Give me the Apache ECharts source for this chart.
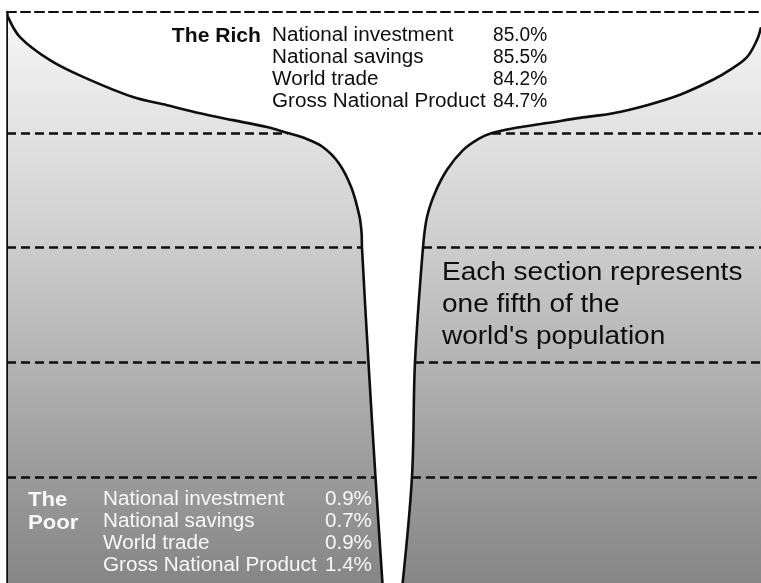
<!DOCTYPE html>
<html>
<head>
<meta charset="utf-8">
<script src="https://cdn.jsdelivr.net/npm/echarts@6/dist/echarts.min.js"></script>
<style>
  html, body { margin: 0; padding: 0; background: #ffffff; }
  #chart { width: 761px; height: 583px; }
</style>
</head>
<body>
<div id="chart"></div>
<script>
// ---- Data ----
// y: cumulative share of world population (0 = poorest, 100 = richest)
// x: position across the glass (0 = left edge, 100 = right edge)
const sectionLevels = [20, 40, 60, 80];

const leftCurve = [
  [0.13, 100.25], [1.72, 96.73], [5.70, 92.70], [10.08, 89.78], [16.71, 86.26],
  [21.22, 84.85], [25.60, 83.44], [29.97, 82.24], [34.48, 81.03], [37.27, 80],
  [39.26, 79.2], [41.84, 77.6], [44.03, 74.69], [45.68, 70.46], [46.72, 65.63],
  [47.02, 62.71], [47.08, 60], [47.94, 40], [48.87, 20], [49.87, 0]
];

const rightCurve = [
  [52.35, 0], [53.71, 20], [54.11, 40], [55.17, 60], [55.70, 65.33],
  [56.76, 69.55], [58.36, 73.58], [60.48, 77.0], [62.6, 79.0], [64.32, 80],
  [67.5, 80.9], [71.62, 81.73], [76.0, 82.64], [80.37, 83.44], [84.88, 84.85],
  [89.26, 86.67], [93.63, 89.28], [95.89, 91.0], [98.14, 93.21], [99.47, 96.23],
  [100, 98.44]
];

const indicatorNames = ['National investment', 'National savings', 'World trade', 'Gross National Product'];
const richShares = [85.0, 85.5, 84.2, 84.7];
const poorShares = [0.9, 0.7, 0.9, 1.4];
const richTitle = 'The Rich';
const poorTitle = ['The', 'Poor'];
const noteLines = ['Each section represents', 'one fifth of the', "world's population"];

// ---- Chart ----
const chart = echarts.init(document.getElementById('chart'), null, { renderer: 'canvas' });

const FONT = '"Liberation Sans", Arial, Helvetica, sans-serif';
const INK = '#0e0e0e';
const dash = [9, 5];

const fillGradient = {
  type: 'linear', global: true, x: 0, y: 12, x2: 0, y2: 583,
  colorStops: [
    { offset: 0.00, color: '#f6f6f6' },
    { offset: 0.21, color: '#e2e2e2' },
    { offset: 0.41, color: '#cdcdcd' },
    { offset: 0.61, color: '#b4b4b4' },
    { offset: 0.81, color: '#9b9b9b' },
    { offset: 1.00, color: '#868686' }
  ]
};

function atLevel(curve, lvl) {
  return curve.find(p => p[1] === lvl)[0];
}

const leftDashes = sectionLevels.map(l => [{ coord: [0, l] }, { coord: [atLevel(leftCurve, l), l] }]);
const rightDashes = sectionLevels.map(l => [{ coord: [atLevel(rightCurve, l), l] }, { coord: [100, l] }]);

const dashStyle = { type: dash, color: INK, width: 2.6 };

function curveSeries(name, data, dashes) {
  return {
    name: name,
    type: 'line',
    data: data,
    smooth: 0.35,
    showSymbol: false,
    symbol: 'none',
    silent: true,
    lineStyle: { color: INK, width: 2.6 },
    areaStyle: { color: fillGradient, opacity: 1, origin: 'start' },
    markLine: {
      silent: true,
      symbol: ['none', 'none'],
      label: { show: false },
      lineStyle: dashStyle,
      data: dashes
    },
    z: 2
  };
}

// text helpers
function txt(x, y, text, opt) {
  return {
    type: 'text',
    x: x, y: y,
    scaleX: opt.scaleX || 1,
    silent: true,
    z: 10,
    style: {
      text: text,
      font: (opt.weight || 'normal') + ' ' + opt.size + 'px ' + FONT,
      fill: opt.color || INK,
      textAlign: opt.align || 'left',
      textVerticalAlign: 'middle'
    }
  };
}

const graphics = [];
// The Rich block
graphics.push(txt(261, 36, richTitle, { size: 20.5, weight: 'bold', scaleX: 1.03, align: 'right' }));
indicatorNames.forEach((n, i) => {
  graphics.push(txt(272, 35.5 + i * 22.2, n, { size: 19.5, scaleX: 1.06 }));
  graphics.push(txt(493, 35.5 + i * 22.2, richShares[i].toFixed(1) + '%', { size: 19.5, scaleX: 0.98 }));
});
// The Poor block
poorTitle.forEach((t, i) => {
  graphics.push(txt(28, 500 + i * 23, t, { size: 20.5, weight: 'bold', scaleX: 1.08, color: '#f8f8f8' }));
});
indicatorNames.forEach((n, i) => {
  graphics.push(txt(103, 499.5 + i * 22, n, { size: 19.5, scaleX: 1.06, color: '#f8f8f8' }));
  graphics.push(txt(372, 499.5 + i * 22, poorShares[i].toFixed(1) + '%', { size: 19.5, scaleX: 1.06, color: '#f8f8f8', align: 'right' }));
});
// note
noteLines.forEach((t, i) => {
  graphics.push(txt(442, 273.5 + i * 32, t, { size: 25, scaleX: 1.12 }));
});

const option = {
  animation: false,
  backgroundColor: '#ffffff',
  grid: { left: 7, right: 0, top: 12, bottom: 0, containLabel: false },
  xAxis: {
    type: 'value', min: 0, max: 100, position: 'top',
    axisLine: { show: true, onZero: false, lineStyle: { type: dash, color: INK, width: 2 } },
    axisTick: { show: false }, axisLabel: { show: false }, splitLine: { show: false }
  },
  yAxis: {
    // picture frame: dashed top edge just above 100, bottom fifth cut off by lower edge
    type: 'value', min: 1.51, max: 101.1,
    axisLine: { show: true, onZero: false, lineStyle: { color: INK, width: 2.5 } },
    axisTick: { show: false }, axisLabel: { show: false }, splitLine: { show: false }
  },
  series: [
    curveSeries('left', leftCurve, leftDashes),
    curveSeries('right', rightCurve, rightDashes)
  ],
  graphic: { elements: graphics }
};

chart.setOption(option);
</script>
</body>
</html>
